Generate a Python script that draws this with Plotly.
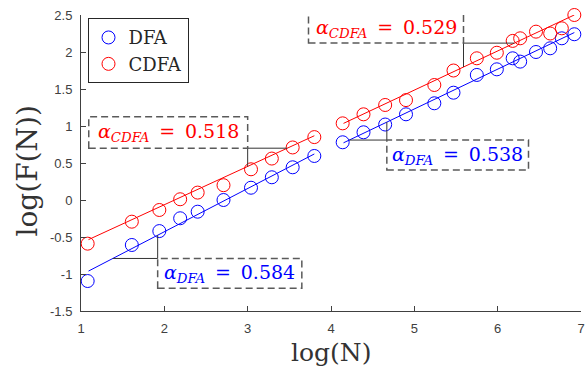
import numpy as np
import plotly.graph_objects as go

# ---- data ----
x_seg1 = [1.08, 1.61, 1.94, 2.19, 2.40, 2.71, 3.04, 3.29, 3.54, 3.80]
dfa_seg1 = [-1.095, -0.608, -0.42, -0.247, -0.158, 0.0, 0.166, 0.307, 0.442, 0.595]
cdfa_seg1 = [-0.59, -0.293, -0.135, 0.01, 0.10, 0.20, 0.415, 0.56, 0.71, 0.85]

x_seg2 = [4.14, 4.39, 4.65, 4.90, 5.24, 5.47, 5.75, 5.99, 6.18, 6.27, 6.46, 6.63, 6.77, 6.92]
dfa_seg2 = [0.78, 0.915, 1.02, 1.158, 1.307, 1.45, 1.69, 1.766, 1.915, 1.87, 2.00, 2.05, 2.185, 2.24]
cdfa_seg2 = [1.036, 1.158, 1.284, 1.35, 1.554, 1.75, 1.915, 1.99, 2.15, 2.185, 2.275, 2.25, 2.32, 2.50]

# fitted slopes (alpha) and intercepts
alpha_dfa_1, icpt_dfa_1 = 0.584, -1.597
alpha_cdfa_1, icpt_cdfa_1 = 0.518, -1.10
alpha_dfa_2, icpt_dfa_2 = 0.538, -1.46
alpha_cdfa_2, icpt_cdfa_2 = 0.529, -1.16

x_ticks = [1, 2, 3, 4, 5, 6, 7]
x_tick_labels = ["1", "2", "3", "4", "5", "6", "7"]
y_ticks = [-1.5, -1, -0.5, 0, 0.5, 1, 1.5, 2, 2.5]
y_tick_labels = ["-1.5", "-1", "-0.5", "0", "0.5", "1", "1.5", "2", "2.5"]

BLUE = "#0000ff"
RED = "#ff0000"
SERIF = "DejaVu Serif, Liberation Serif, serif"
SANS = "Liberation Sans, Arial, sans-serif"

fig = go.Figure()

def fit_line(xs, a, b):
    xr = np.array([xs[0] + 0.01, xs[-1]])
    return xr, a * xr + b

# fit lines
for xs, a, b, col in [(x_seg1, alpha_dfa_1, icpt_dfa_1, BLUE),
                      (x_seg1, alpha_cdfa_1, icpt_cdfa_1, RED),
                      (x_seg2, alpha_dfa_2, icpt_dfa_2, BLUE),
                      (x_seg2, alpha_cdfa_2, icpt_cdfa_2, RED)]:
    xr, yr = fit_line(xs, a, b)
    fig.add_trace(go.Scatter(x=xr, y=yr, mode="lines", line=dict(color=col, width=1),
                             showlegend=False, hoverinfo="skip", cliponaxis=False))

# markers
fig.add_trace(go.Scatter(x=x_seg1 + x_seg2, y=dfa_seg1 + dfa_seg2, mode="markers", name="DFA",
                         marker=dict(symbol="circle-open", size=13, color=BLUE, line=dict(width=1)),
                         cliponaxis=False))
fig.add_trace(go.Scatter(x=x_seg1 + x_seg2, y=cdfa_seg1 + cdfa_seg2, mode="markers", name="CDFA",
                         marker=dict(symbol="circle-open", size=13, color=RED, line=dict(width=1)),
                         cliponaxis=False))

shapes = []
annotations = []

def slope_box(corner, a, b, box, text, col):
    cx, cy = corner
    xl = (cy - b) / a
    yl = a * cx + b
    shapes.append(dict(type="line", x0=xl, y0=cy, x1=cx, y1=cy, line=dict(color="#333", width=1)))
    shapes.append(dict(type="line", x0=cx, y0=cy, x1=cx, y1=yl, line=dict(color="#333", width=1)))
    x0, x1, y0, y1 = box
    shapes.append(dict(type="rect", x0=x0, x1=x1, y0=y0, y1=y1,
                       line=dict(color="#5a5a5a", width=1.5, dash="7px,4px")))
    annotations.append(dict(x=(x0 + x1) / 2, y=(y0 + y1) / 2, text=text, showarrow=False,
                            font=dict(family=SERIF, size=19, color=col),
                            xanchor="center", yanchor="middle"))

EQ = "&#8201;=&#8201;"
slope_box((1.92, -0.79), alpha_dfa_1, icpt_dfa_1, (1.92, 3.65, -1.193, -0.79),
          "<i>α</i><sub><i>DFA</i></sub> " + EQ + " %.3f" % alpha_dfa_1, BLUE)
slope_box((3.0, 0.70), alpha_cdfa_1, icpt_cdfa_1, (1.093, 3.0, 0.70, 1.126),
          "<i>α</i><sub><i>CDFA</i></sub> " + EQ + " %.3f" % alpha_cdfa_1, RED)
slope_box((5.59, 2.12), alpha_cdfa_2, icpt_cdfa_2, (3.73, 5.59, 2.12, 2.51),
          "<i>α</i><sub><i>CDFA</i></sub> " + EQ + " %.3f" % alpha_cdfa_2, RED)
slope_box((4.67, 0.81), alpha_dfa_2, icpt_dfa_2, (4.67, 6.37, 0.405, 0.81),
          "<i>α</i><sub><i>DFA</i></sub> " + EQ + " %.3f" % alpha_dfa_2, BLUE)

# axis titles
annotations.append(dict(x=0.5, y=-0.14, xref="paper", yref="paper", text="log(N)", showarrow=False,
                        font=dict(family=SERIF, size=25, color="#333333"), xanchor="center", yanchor="middle"))
annotations.append(dict(x=-0.107, y=0.473, xref="paper", yref="paper", text="log(F(N))", showarrow=False,
                        textangle=-90, font=dict(family=SERIF, size=28, color="#333333"),
                        xanchor="center", yanchor="middle"))

axis_common = dict(showline=True, linecolor="#404040", linewidth=1, mirror=False, showgrid=False,
                   zeroline=False, ticks="inside", ticklen=5, tickcolor="#404040",
                   ticklabeloverflow="allow", ticklabelstandoff=5,
                   tickfont=dict(family=SANS, size=13, color="#404040"))

fig.update_layout(
    width=586, height=370,
    margin=dict(l=81, r=1, t=15, b=59),
    plot_bgcolor="white", paper_bgcolor="white",
    xaxis=dict(range=[1, 7], tickvals=x_ticks, ticktext=x_tick_labels, **axis_common),
    yaxis=dict(range=[-1.5, 2.5], tickvals=y_ticks, ticktext=y_tick_labels, **axis_common),
    shapes=shapes, annotations=annotations,
    legend=dict(x=0.013, y=0.989, xanchor="left", yanchor="top", bordercolor="#262626", borderwidth=1,
                bgcolor="white", font=dict(family=SERIF, size=18, color="#262626"),
                itemwidth=30, tracegroupgap=0),
    showlegend=True,
)

fig.write_html("out.html")
